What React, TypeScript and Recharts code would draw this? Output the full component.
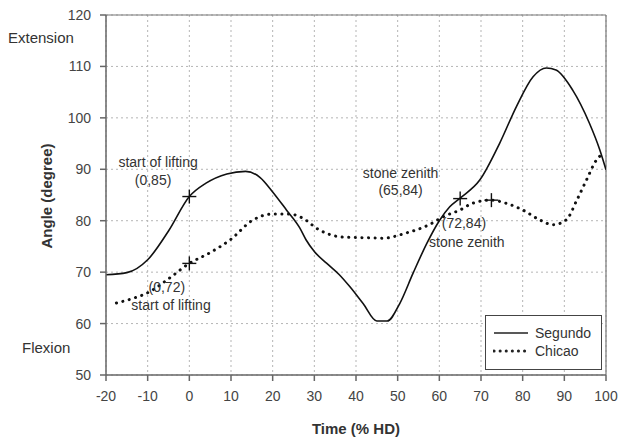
import React from 'react';
import {
  ComposedChart,
  Line,
  XAxis,
  YAxis,
  CartesianGrid,
  ReferenceLine,
  ReferenceDot,
  Legend,
} from 'recharts';

// ---- Data ----
const segundoTime = [-20, -15, -10, -5, 0, 4, 9, 13.5, 17, 20, 23.3, 26.5, 28, 30, 33, 36, 38.5, 41.7, 45, 47.5, 50.5, 53.7, 57, 60, 62.5, 65, 69.7, 74.5, 78.5, 82.5, 85.7, 88, 92, 96, 98.5, 100];
const segundoAngle = [69.5, 69.9, 72.4, 78.0, 84.7, 87.3, 89.1, 89.6, 88.4, 85.6, 82.1, 78.6, 76.3, 74.0, 71.7, 69.5, 67.2, 63.9, 60.5, 60.5, 63.9, 69.8, 75.6, 80.0, 82.7, 84.4, 87.9, 95.1, 102.2, 108.0, 109.7, 109.3, 105.4, 99.0, 93.8, 89.9];

const chicaoTime = [-17.5, -13.5, -9.5, -5, 0, 5, 10, 15, 20, 24, 27, 31, 37, 42, 46.5, 52, 57.5, 61, 65, 68, 72.5, 76, 80, 84, 87.3, 90.5, 93, 95.3, 97.7, 99.3];
const chicaoAngle = [64.0, 64.9, 66.2, 68.7, 71.7, 73.8, 76.4, 80.0, 81.3, 81.3, 80.6, 78.3, 76.8, 76.7, 76.6, 77.6, 79.2, 80.8, 82.1, 83.4, 84.0, 83.4, 82.1, 80.2, 79.2, 80.2, 84.0, 87.9, 91.8, 93.1];

const segundoMarkTime = [0, 65];
const segundoMarkAngle = [84.7, 84.3];
const chicaoMarkTime = [0, 72.5];
const chicaoMarkAngle = [71.7, 84.0];

const xTicks = [-20, -10, 0, 10, 20, 30, 40, 50, 60, 70, 80, 90, 100];
const yTicks = [50, 60, 70, 80, 90, 100, 110, 120];

const annotationTexts = ['start of lifting', '(0,85)', '(0,72)', 'start of lifting', 'stone zenith', '(65,84)', '(72,84)', 'stone zenith'];
const seriesNames = ['Segundo', 'Chicao'];

const segundoData = segundoTime.map((t, i) => ({ t, v: segundoAngle[i] }));
const chicaoData = chicaoTime.map((t, i) => ({ t, v: chicaoAngle[i] }));

// positions of annotations in data units
const annotationAnchors = [
  { x: -7.5, y: 91.4 },
  { x: -8.7, y: 88.0 },
  { x: -5.4, y: 67.1 },
  { x: -4.4, y: 63.6 },
  { x: 50.7, y: 89.3 },
  { x: 50.7, y: 86.0 },
  { x: 65.9, y: 79.6 },
  { x: 66.6, y: 75.9 },
];

const FONT = 'Arial, "Liberation Sans", Helvetica, sans-serif';

const Plus = (props: any) => {
  const { cx, cy } = props;
  if (cx == null || cy == null) return null;
  return (
    <g stroke="#111" strokeWidth={1.4}>
      <line x1={cx - 7} y1={cy} x2={cx + 7} y2={cy} />
      <line x1={cx} y1={cy - 7} x2={cx} y2={cy + 7} />
    </g>
  );
};

const renderLegend = () => (
  <div
    style={{
      width: 117,
      height: 55,
      border: '1px solid #444',
      background: '#fff',
      boxSizing: 'border-box',
      fontFamily: FONT,
      fontSize: 14,
      color: '#333',
      paddingTop: 8,
    }}
  >
    {seriesNames.map((name, i) => (
      <div key={name} style={{ display: 'flex', alignItems: 'center', height: 18, paddingLeft: 7 }}>
        <svg width={36} height={6} style={{ marginRight: 6 }}>
          <line
            x1={1}
            y1={3}
            x2={35}
            y2={3}
            stroke="#222"
            strokeWidth={i === 0 ? 1.6 : 3}
            strokeDasharray={i === 0 ? undefined : '0.1 6'}
            strokeLinecap={i === 0 ? 'butt' : 'round'}
          />
        </svg>
        <span>{name}</span>
      </div>
    ))}
  </div>
);

export default function App() {
  return (
    <div style={{ position: 'absolute', left: 0, top: 0, width: 618, height: 440, background: '#fff', fontFamily: FONT }}>
      <ComposedChart
        width={618}
        height={440}
        margin={{ top: 15, right: 12, left: 0, bottom: 0 }}
      >
        <CartesianGrid stroke="#b5b5b5" strokeDasharray="2 3" />
        <XAxis
          dataKey="t"
          type="number"
          domain={[-20, 100]}
          ticks={xTicks}
          allowDataOverflow
          height={65}
          tickSize={6}
          tickMargin={10}
          axisLine={{ stroke: '#666', strokeWidth: 1.5 }}
          tickLine={{ stroke: '#666', strokeWidth: 1.5 }}
          tick={{ fill: '#444', fontSize: 14, fontFamily: FONT }}
        />
        <YAxis
          type="number"
          domain={[50, 120]}
          ticks={yTicks}
          width={106}
          tickSize={6}
          tickMargin={9}
          axisLine={{ stroke: '#666', strokeWidth: 1.5 }}
          tickLine={{ stroke: '#666', strokeWidth: 1.5 }}
          tick={{ fill: '#444', fontSize: 14, fontFamily: FONT }}
        />
        <ReferenceLine y={120} stroke="#777" strokeWidth={1.2} />
        <ReferenceLine x={100} stroke="#777" strokeWidth={1.2} />
        <Line
          data={segundoData}
          dataKey="v"
          name={seriesNames[0]}
          type="monotone"
          stroke="#111"
          strokeWidth={1.6}
          dot={false}
          isAnimationActive={false}
        />
        <Line
          data={chicaoData}
          dataKey="v"
          name={seriesNames[1]}
          type="monotone"
          stroke="#111"
          strokeWidth={3}
          strokeDasharray="0.1 6.5"
          strokeLinecap="round"
          dot={false}
          isAnimationActive={false}
        />
        {segundoMarkTime.map((t, i) => (
          <ReferenceDot key={'s' + i} x={t} y={segundoMarkAngle[i]} shape={Plus} />
        ))}
        {chicaoMarkTime.map((t, i) => (
          <ReferenceDot key={'c' + i} x={t} y={chicaoMarkAngle[i]} shape={Plus} />
        ))}
        {annotationTexts.map((txt, i) => (
          <ReferenceDot
            key={'a' + i}
            x={annotationAnchors[i].x}
            y={annotationAnchors[i].y}
            r={0}
            fill="none"
            stroke="none"
            label={{ value: txt, position: 'center', fill: '#333', fontSize: 14, fontFamily: FONT }}
          />
        ))}
        <Legend
          layout="horizontal"
          verticalAlign="middle"
          align="center"
          content={renderLegend}
          wrapperStyle={{ position: 'absolute', left: 485, top: 315, width: 117, height: 55 }}
        />
      </ComposedChart>
      <div style={{ position: 'absolute', left: 8, top: 28, fontSize: 15, color: '#333', lineHeight: '20px' }}>Extension</div>
      <div style={{ position: 'absolute', left: 22, top: 338, fontSize: 15, color: '#333', lineHeight: '20px' }}>Flexion</div>
      <div
        style={{
          position: 'absolute',
          left: 46,
          top: 196,
          transform: 'translate(-50%, -50%) rotate(-90deg)',
          fontSize: 15,
          fontWeight: 'bold',
          color: '#333',
          whiteSpace: 'nowrap',
        }}
      >
        Angle (degree)
      </div>
      <div
        style={{
          position: 'absolute',
          left: 356,
          top: 428,
          transform: 'translate(-50%, -50%)',
          fontSize: 15,
          fontWeight: 'bold',
          color: '#333',
          whiteSpace: 'nowrap',
        }}
      >
        Time (% HD)
      </div>
    </div>
  );
}
